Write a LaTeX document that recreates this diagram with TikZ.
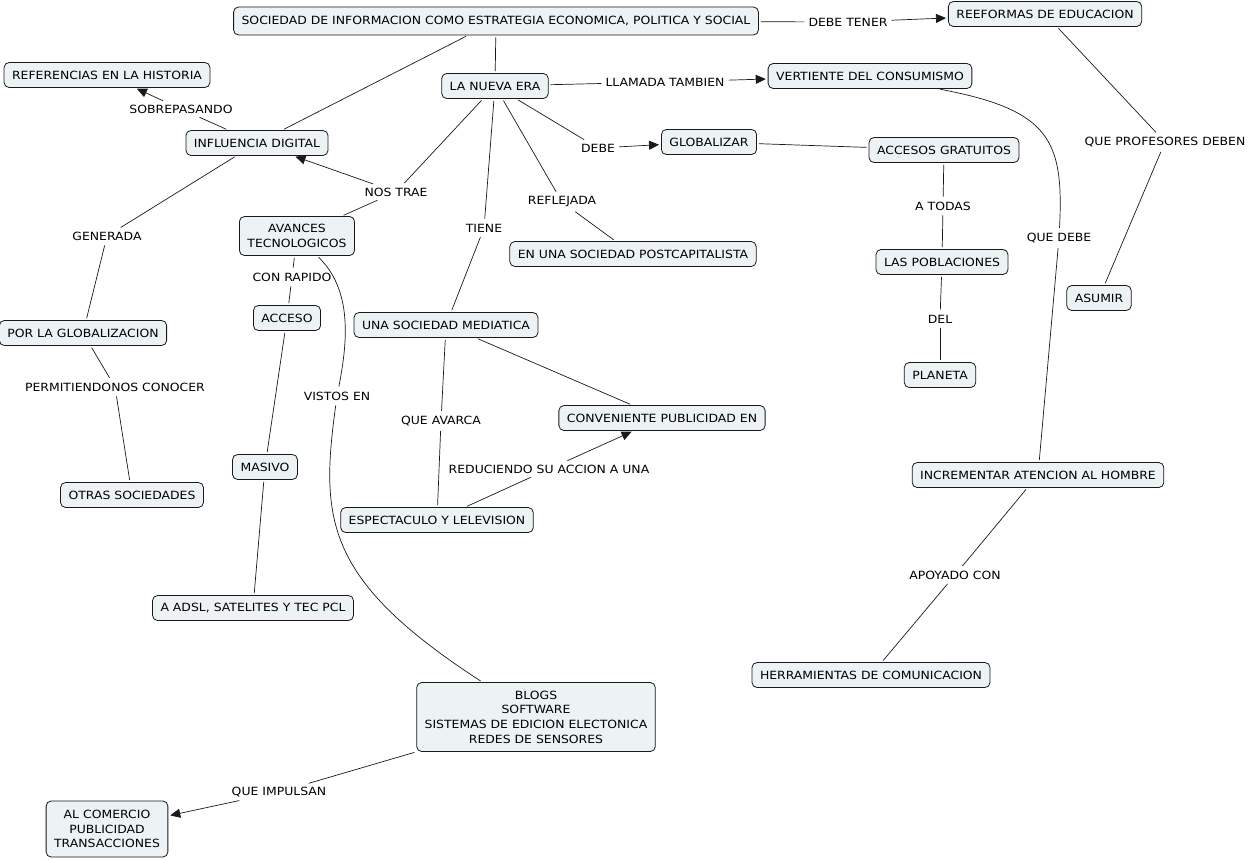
\documentclass[tikz,border=0pt]{standalone}
\usepackage{fontspec}
\setmainfont{DejaVu Sans}[FakeStretch=1.1]
\usetikzlibrary{arrows.meta}
\definecolor{boxfill}{RGB}{237,243,245}
\newcommand{\cmfont}{\fontsize{11.3}{14.6}\selectfont}
\tikzset{
  concept/.style={draw=black!90, fill=boxfill, rounded corners=5pt, line width=0.8pt,
    inner xsep=8pt, inner ysep=3pt, minimum height=25pt, font=\cmfont, align=center},
  lbl/.style={font=\cmfont, inner xsep=2pt, inner ysep=3pt},
  ln/.style={draw=black!90, line width=0.7pt, shorten <=2pt, shorten >=2pt},
  arr/.style={ln, -{Triangle[length=10pt,width=9pt]}}
}
\begin{document}
\begin{tikzpicture}[x=1pt,y=-1pt]
\useasboundingbox (0,0) rectangle (1249,859);
% concepts
\node[concept, minimum height=28pt] (soc) at (496,21) {SOCIEDAD DE INFORMACION COMO ESTRATEGIA ECONOMICA, POLITICA Y SOCIAL};
\node[concept] (reef) at (1045,14) {REEFORMAS DE EDUCACION};
\node[concept] (era) at (495,86) {LA NUEVA ERA};
\node[concept] (vert) at (870,76) {VERTIENTE DEL CONSUMISMO};
\node[concept] (ref) at (107,75) {REFERENCIAS EN LA HISTORIA};
\node[concept] (infl) at (257,143) {INFLUENCIA DIGITAL};
\node[concept] (glob) at (709,142) {GLOBALIZAR};
\node[concept] (accesos) at (944,150) {ACCESOS GRATUITOS};
\node[concept, minimum height=39pt] (avances) at (297,236) {AVANCES\\TECNOLOGICOS};
\node[concept] (postcap) at (633,254) {EN UNA SOCIEDAD POSTCAPITALISTA};
\node[concept] (pobl) at (942,262) {LAS POBLACIONES};
\node[concept] (asumir) at (1099,298) {ASUMIR};
\node[concept] (porglob) at (83,333) {POR LA GLOBALIZACION};
\node[concept] (acceso) at (287,318) {ACCESO};
\node[concept] (mediatica) at (446,325) {UNA SOCIEDAD MEDIATICA};
\node[concept] (planeta) at (940,375) {PLANETA};
\node[concept] (conveniente) at (662,418) {CONVENIENTE PUBLICIDAD EN};
\node[concept] (increm) at (1038,475) {INCREMENTAR ATENCION AL HOMBRE};
\node[concept] (masivo) at (265,467) {MASIVO};
\node[concept] (otras) at (132,495) {OTRAS SOCIEDADES};
\node[concept] (espect) at (437,520) {ESPECTACULO Y LELEVISION};
\node[concept] (adsl) at (253,608) {A ADSL, SATELITES Y TEC PCL};
\node[concept] (herram) at (871,675) {HERRAMIENTAS DE COMUNICACION};
\node[concept, minimum height=69pt] (blogs) at (536,717) {BLOGS\\SOFTWARE\\SISTEMAS DE EDICION ELECTONICA\\REDES DE SENSORES};
\node[concept, minimum height=56pt] (alcom) at (107,829) {AL COMERCIO\\PUBLICIDAD\\TRANSACCIONES};
% linking phrases
\node[lbl] (debetener) at (848,22) {DEBE TENER};
\node[lbl] (llamada) at (665,82) {LLAMADA TAMBIEN};
\node[lbl] (sobre) at (181,109) {SOBREPASANDO};
\node[lbl] (nostrae) at (396,192) {NOS TRAE};
\node[lbl] (debe) at (598,148) {DEBE};
\node[lbl] (refl) at (562,202) {REFLEJADA};
\node[lbl] (tiene) at (484,228) {TIENE};
\node[lbl] (generada) at (107,236) {GENERADA};
\node[lbl] (conrapido) at (292,277) {CON RAPIDO};
\node[lbl] (vistos) at (337,396) {VISTOS EN};
\node[lbl] (permit) at (115,387) {PERMITIENDONOS CONOCER};
\node[lbl] (avarca) at (441,421) {QUE AVARCA};
\node[lbl] (reduc) at (549,469) {REDUCIENDO SU ACCION A UNA};
\node[lbl] (impulsan) at (279,792) {QUE IMPULSAN};
\node[lbl] (atodas) at (943,206) {A TODAS};
\node[lbl] (del) at (940,319) {DEL};
\node[lbl] (profdeben) at (1165,142) {QUE PROFESORES DEBEN};
\node[lbl] (quedebe) at (1059,238) {QUE DEBE};
\node[lbl] (apoyado) at (955,575) {APOYADO CON};
% connectors
\draw[ln] (soc) -- (debetener);
\draw[arr] (debetener) -- (reef);
\draw[ln] (soc) -- (infl);
\draw[ln] (soc) -- (era);
\draw[ln] (era) -- (llamada);
\draw[arr] (llamada) -- (vert);
\draw[ln] (infl) -- (sobre);
\draw[arr] (sobre) -- (ref);
\draw[ln] (era) -- (nostrae);
\draw[arr] (nostrae) -- (infl);
\draw[ln] (nostrae) -- (avances);
\draw[ln] (era) -- (debe);
\draw[arr] (debe) -- (glob);
\draw[ln] (era) -- (refl);
\draw[ln] (refl) -- (postcap);
\draw[ln] (era) -- (tiene);
\draw[ln] (tiene) -- (mediatica);
\draw[ln] (infl) -- (generada);
\draw[ln] (generada) -- (porglob);
\draw[ln] (avances) -- (conrapido);
\draw[ln] (conrapido) -- (acceso);
\draw[ln] (avances) .. controls (352,290) and (348,340) .. (vistos);
\draw[ln] (vistos) .. controls (320,520) and (325,580) .. (blogs);
\draw[ln] (porglob) -- (permit);
\draw[ln] (permit) -- (otras);
\draw[ln] (acceso) -- (masivo);
\draw[ln] (masivo) -- (adsl);
\draw[ln] (mediatica) -- (avarca);
\draw[ln] (avarca) -- (espect);
\draw[ln] (mediatica) -- (conveniente);
\draw[ln] (espect) -- (reduc);
\draw[arr] (reduc) -- (conveniente);
\draw[ln] (blogs) -- (impulsan);
\draw[arr] (impulsan) -- (alcom);
\draw[ln] (glob) -- (accesos);
\draw[ln] (accesos) -- (atodas);
\draw[ln] (atodas) -- (pobl);
\draw[ln] (pobl) -- (del);
\draw[ln] (del) -- (planeta);
\draw[ln] (reef) -- (profdeben);
\draw[ln] (profdeben) -- (asumir);
\draw[ln] (vert) .. controls (1050,110) and (1064,140) .. (quedebe);
\draw[ln] (quedebe) -- (increm);
\draw[ln] (increm) -- (apoyado);
\draw[ln] (apoyado) -- (herram);
\end{tikzpicture}
\end{document}
